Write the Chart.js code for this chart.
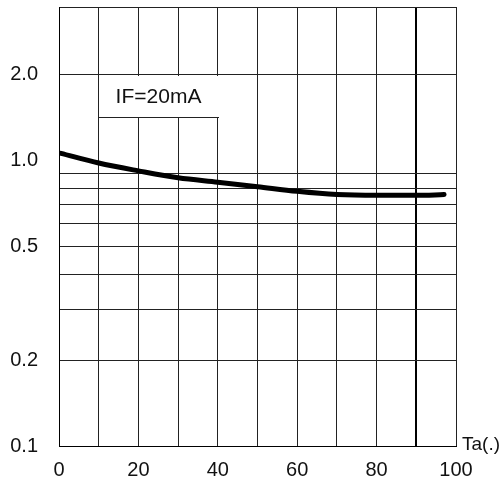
<!DOCTYPE html>
<html>
<head>
<meta charset="utf-8">
<script src="https://cdn.jsdelivr.net/npm/chart.js@4"></script>
<style>
  html, body { margin: 0; padding: 0; background: #fff; }
  canvas { display: block; }
</style>
</head>
<body>
<canvas id="myChart" width="504" height="484"></canvas>
<script>
// Relative intensity vs ambient temperature
const tempC = [0.5, 10, 20, 30, 40, 50, 60, 70, 80, 90, 97];
const relIntensity = [1.06, 0.98, 0.92, 0.87, 0.84, 0.81, 0.78, 0.76, 0.755, 0.755, 0.76];

// Axis ticks
const yGridValues = [0.1, 0.2, 0.3, 0.4, 0.5, 0.6, 0.7, 0.8, 0.9, 1.0, 2.0];
const yTickLabels = ['0.1', '0.2', '0.5', '1.0', '2.0'];
const xTickLabels = ['0', '20', '40', '60', '80', '100'];
const yMin = 0.1, yMax = 3.45;

const noteText = 'IF=20mA';
const axisUnit = 'Ta(.)';

const FONT = '"Liberation Sans", Arial, sans-serif';

const notePlugin = {
    id: 'note',
    beforeDatasetsDraw(chart) {
        const ctx = chart.ctx;
        const x = chart.scales.x, y = chart.scales.y;
        const l = Math.round(x.getPixelForValue(10));
        const r = Math.round(x.getPixelForValue(40));
        const t = Math.round(y.getPixelForValue(2.0));
        const b = Math.round(y.getPixelForValue(1.42));
        ctx.save();
        ctx.fillStyle = '#fff';
        ctx.fillRect(l + 1, t + 1, r - l - 1, b - t - 1);
        ctx.strokeStyle = '#222';
        ctx.lineWidth = 1;
        ctx.beginPath();
        ctx.moveTo(l, b + 0.5);
        ctx.lineTo(r + 1, b + 0.5);
        ctx.stroke();
        ctx.fillStyle = '#111';
        ctx.font = '21px ' + FONT;
        ctx.textAlign = 'center';
        ctx.textBaseline = 'middle';
        ctx.fillText(noteText, (l + r) / 2, (t + b) / 2 + 1);
        ctx.restore();
    },
    afterDraw(chart) {
        const ctx = chart.ctx;
        const area = chart.chartArea;
        ctx.save();
        ctx.fillStyle = '#111';
        ctx.font = '19px ' + FONT;
        ctx.textAlign = 'left';
        ctx.textBaseline = 'middle';
        ctx.fillText(axisUnit, area.right + 6, area.bottom - 1);
        ctx.restore();
    }
};

const ctx = document.getElementById('myChart').getContext('2d');
const config = {
    type: 'line',
    data: {
        datasets: [{
            data: tempC.map((t, i) => ({ x: t, y: relIntensity[i] })),
            borderColor: '#000',
            borderWidth: 5,
            borderCapStyle: 'round',
            pointRadius: 0,
            cubicInterpolationMode: 'monotone',
            fill: false
        }]
    },
    options: {
        responsive: false,
        animation: false,
        devicePixelRatio: 1,
        layout: {
            padding: { top: 7, right: 48, left: 0, bottom: 0 }
        },
        plugins: {
            legend: false,
            tooltip: { enabled: false }
        },
        scales: {
            x: {
                type: 'linear',
                min: 0,
                max: 100,
                afterFit: (scale) => {
                    scale.height = 38;
                    scale.paddingLeft = 0;
                    scale.paddingRight = 0;
                },
                border: { display: true, color: '#000', width: 1 },
                grid: {
                    drawTicks: false,
                    color: (c) => c.tick && c.tick.value === 90 ? '#000' : '#222',
                    lineWidth: (c) => c.tick && c.tick.value === 90 ? 2 : 1
                },
                ticks: {
                    stepSize: 10,
                    autoSkip: false,
                    maxRotation: 0,
                    padding: 12,
                    color: '#111',
                    font: { family: FONT, size: 20 },
                    callback: (v) => xTickLabels.includes(String(v)) ? String(v) : ''
                }
            },
            y: {
                type: 'logarithmic',
                min: yMin,
                max: yMax,
                afterFit: (scale) => {
                    scale.width = 59;
                    scale.paddingTop = 0;
                    scale.paddingBottom = 0;
                },
                afterBuildTicks: (scale) => {
                    scale.ticks = yGridValues.concat([yMax]).map(v => ({ value: v }));
                },
                border: { display: true, color: '#000', width: 1 },
                grid: {
                    drawTicks: false,
                    color: (c) => c.tick && c.tick.value === 1.0 ? 'rgba(0,0,0,0)' : '#222',
                    lineWidth: 1
                },
                ticks: {
                    autoSkip: false,
                    padding: 21,
                    color: '#111',
                    font: { family: FONT, size: 20 },
                    callback: (v) => {
                        const s = Number(v).toFixed(1);
                        return yTickLabels.includes(s) && Math.abs(v - parseFloat(s)) < 1e-6 ? s : '';
                    }
                }
            }
        }
    },
    plugins: [notePlugin]
};

const myChart = new Chart(ctx, config);
</script>
</body>
</html>
